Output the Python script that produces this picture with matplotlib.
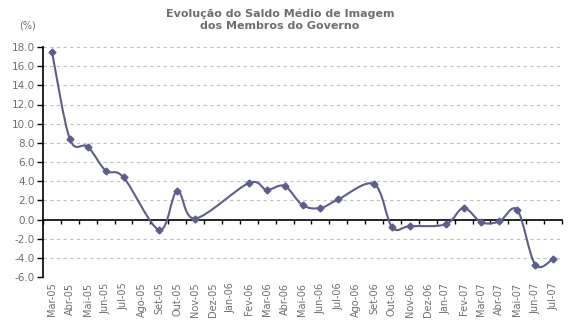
import numpy as np
import matplotlib
matplotlib.use("Agg")
import matplotlib.pyplot as plt
from matplotlib.path import Path
from matplotlib.patches import PathPatch

months = ["Mar-05", "Abr-05", "Mai-05", "Jun-05", "Jul-05", "Ago-05", "Set-05", "Out-05",
          "Nov-05", "Dez-05", "Jan-06", "Fev-06", "Mar-06", "Abr-06", "Mai-06", "Jun-06",
          "Jul-06", "Ago-06", "Set-06", "Out-06", "Nov-06", "Dez-06", "Jan-07", "Fev-07",
          "Mar-07", "Abr-07", "Mai-07", "Jun-07", "Jul-07"]

# months with a survey value (some months have none)
obs_months = ["Mar-05", "Abr-05", "Mai-05", "Jun-05", "Jul-05", "Set-05", "Out-05", "Nov-05",
              "Fev-06", "Mar-06", "Abr-06", "Mai-06", "Jun-06", "Jul-06", "Set-06", "Out-06",
              "Nov-06", "Jan-07", "Fev-07", "Mar-07", "Abr-07", "Mai-07", "Jun-07", "Jul-07"]
saldo = [17.5, 8.4, 7.6, 5.1, 4.4, -1.1, 3.0, 0.1,
         3.8, 3.1, 3.5, 1.5, 1.2, 2.1, 3.7, -0.8,
         -0.7, -0.5, 1.2, -0.3, -0.2, 1.0, -4.7, -4.1]

line_col = "#5e5e8c"
text_col = "#6e6e6e"

x = np.array([months.index(m) for m in obs_months], dtype=float)
y = np.array(saldo)


def smooth_path(x, y):
    # Excel-style smoothed line: cubic bezier with catmull-rom control points
    pts = np.column_stack([x, y])
    verts = [pts[0]]
    codes = [Path.MOVETO]
    n = len(pts)
    for i in range(n - 1):
        p0 = pts[i - 1] if i > 0 else pts[i]
        p1 = pts[i]
        p2 = pts[i + 1]
        p3 = pts[i + 2] if i + 2 < n else pts[i + 1]
        c1 = p1 + (p2 - p0) / 6.0
        c2 = p2 - (p3 - p1) / 6.0
        verts += [c1, c2, p2]
        codes += [Path.CURVE4] * 3
    return Path(verts, codes)


fig = plt.figure(figsize=(5.71, 3.25), dpi=100)
ax = fig.add_axes([43 / 571, 1 - 277 / 325, (562 - 43) / 571, (277 - 47) / 325])

ax.set_xlim(-0.5, len(months) - 0.5)
ax.set_ylim(-6, 18)

ax.add_patch(PathPatch(smooth_path(x, y), facecolor="none", edgecolor=line_col,
                       lw=1.5, zorder=3))
ax.plot(x, y, linestyle="none", marker="D", ms=3.5, color=line_col, zorder=4)

yt = np.arange(-6, 19, 2)
ax.set_yticks(yt)
ax.set_yticklabels([f"{v:.1f}" for v in yt])
for v in yt:
    if v != 0:
        ax.axhline(v, color="#c0c0c0", lw=0.8, ls=(0, (3, 3)), zorder=1)

ax.set_xticks(range(len(months)))
ax.set_xticklabels(months, rotation=90)
ax.tick_params(axis="x", length=0, pad=4, labelsize=7, labelcolor=text_col)
ax.tick_params(axis="y", length=4, width=1, direction="out", labelsize=7.5,
               labelcolor=text_col, color="black", pad=2)

for s in ["top", "right", "bottom"]:
    ax.spines[s].set_visible(False)
ax.spines["left"].set_color("black")
ax.spines["left"].set_linewidth(1.2)

# zero axis with category tick marks
zero_frac = (0 - ax.get_ylim()[0]) / (ax.get_ylim()[1] - ax.get_ylim()[0])
sec = ax.secondary_xaxis(zero_frac)
sec.set_xticks(np.arange(-0.5, len(months), 1.0))
sec.tick_params(axis="x", length=3, width=1, direction="out", labelbottom=False,
                labeltop=False, color="black")
sec.spines["bottom"].set_color("black")
sec.spines["bottom"].set_linewidth(1.2)

fig.text(0.49, 1 - 20 / 325, "Evolução do Saldo Médio de Imagem\ndos Membros do Governo",
         ha="center", va="center", fontsize=8, fontweight="bold", color=text_col,
         linespacing=1.3)
fig.text(28 / 571, 1 - 25 / 325, "(%)", ha="center", va="center", fontsize=7,
         color=text_col)

fig.savefig("out.png", dpi=100)
